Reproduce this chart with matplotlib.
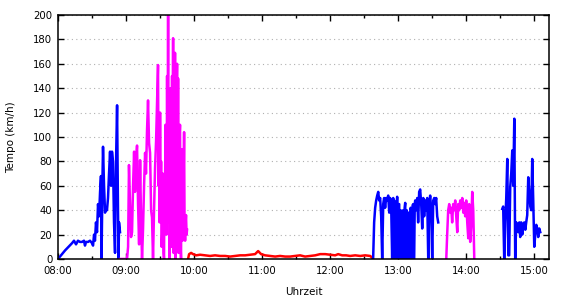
import matplotlib
matplotlib.use("Agg")
import matplotlib.pyplot as plt
from matplotlib.ticker import MultipleLocator, FuncFormatter

# time in minutes after 08:00, speed in km/h
blue1_t = [0, 6.2, 12.4, 14.1, 15.9, 17.6, 19.4, 21.2, 22.9, 23.8, 24.7, 26.5, 28.2, 30.0, 30.9,
           31.8, 32.6, 33.5, 34.4, 35.3, 36.2, 37.1, 37.9, 38.4, 39.3, 39.7, 40.6, 41.5, 42.4, 43.2,
           44.1, 45.0, 45.9, 46.8, 47.6, 48.5, 49.4, 50.3, 50.7, 51.2, 52.1, 52.9, 53.4, 53.8, 54.7]
blue1_v = [0, 7, 13, 15, 12, 15, 14, 14, 15, 11, 14, 14, 15, 13, 11,
           20, 15, 30, 22, 45, 35, 55, 68, 0, 70, 92, 60, 38, 42, 40,
           50, 70, 88, 60, 88, 80, 30, 5, 50, 80, 126, 40, 0, 30, 22]

mag1_t = [54.7, 60.9, 61.8, 62.6, 63.5, 64.4, 65.3, 66.2, 67.1, 67.9, 68.8, 69.7, 70.6, 71.5,
          72.4, 73.2, 74.1, 75.0, 75.9, 76.8, 77.6, 78.5, 79.4, 80.3, 81.2, 82.1, 82.9, 83.8,
          84.7, 85.6, 86.5, 87.4,
          88.2, 88.7, 89.1, 89.6, 90.0, 90.5, 90.9, 91.4, 91.8, 92.2, 92.6, 93.1, 93.5, 93.9,
          94.4, 94.8, 95.3, 95.7, 96.2, 96.6, 97.1, 97.5, 97.9, 98.4, 98.8, 99.3, 99.7, 100.1,
          100.6, 101.0, 101.5, 101.9, 102.4, 102.8, 103.2, 103.7, 104.1, 104.6, 105.0, 105.4,
          105.9, 106.3, 106.8, 107.2, 107.6, 108.1, 108.5, 108.9, 109.4, 109.8, 110.3, 110.7,
          111.2, 111.6, 112.1, 112.5, 112.9, 113.4, 113.8]
mag1_v = [0, 0, 10, 77, 45, 18, 22, 60, 88, 55, 80, 93, 45, 12,
          81, 35, 0, 25, 60, 87, 70, 105, 130, 95, 87, 40, 34, 0,
          40, 75, 97, 130,
          159, 60, 105, 30, 120, 40, 80, 10, 20, 70, 50, 5, 0, 70,
          60, 110, 95, 20, 150, 60, 200, 30, 120, 0, 20, 140, 90, 10,
          150, 40, 181, 5, 60, 120, 169, 0, 10, 130, 160, 20,
          148, 5, 40, 100, 110, 10, 0, 85, 90, 15, 40, 60,
          104, 30, 15, 30, 36, 20, 24]

red_t = [114.7, 115.6, 117.4, 119.1, 121.8, 125.3, 129.7, 134.1, 138.5, 142.9, 147.4, 151.8,
         156.2, 160.6, 165.0, 169.4, 173.8, 176.5, 179.1, 182.6, 187.1, 191.5, 195.9, 200.3,
         204.7, 209.1, 213.5, 217.9, 222.4, 226.8, 231.2, 235.6, 240.0, 244.4, 247.1, 250.6,
         254.1, 257.6, 262.1, 266.5, 270.9, 275.3, 277.1]
red_v = [0, 4, 5, 4, 3, 3.5, 3, 2.5, 3, 2.5, 2.5, 2,
         2.5, 3, 3, 3.5, 4, 6.5, 4, 3, 2.5, 2, 2.5, 2,
         2, 2.5, 3, 2, 2.5, 3, 4, 4, 3.5, 3, 4, 3,
         3, 2.5, 3, 2.5, 3, 2.5, 1]

blue2_t = [277.9, 278.8, 279.7, 280.6, 281.5, 282.4, 283.2, 284.1, 285.0, 285.9, 286.8, 287.6,
           288.5, 289.4, 290.3, 291.2, 292.1, 292.9, 293.8,
           294.7, 295.2, 295.6, 296.1, 296.5, 297.0, 297.4, 297.8, 298.2, 298.7, 299.1, 299.6,
           300.0, 300.4, 300.9, 301.3, 301.8, 302.2, 302.6, 303.1, 303.5, 304.0, 304.4, 304.8,
           305.3, 305.7, 306.2, 306.6, 307.1, 307.5, 307.9, 308.4, 308.8, 309.3, 309.7, 310.1,
           310.6, 311.0, 311.5, 311.9, 312.4, 312.8, 313.2, 313.7, 314.1, 314.6, 315.0,
           315.9, 316.8, 317.6, 318.5, 319.4,
           320.3, 321.2, 322.1, 322.9, 323.8, 324.7, 325.6, 326.5, 327.4, 328.2, 329.1, 330.0,
           330.9, 331.8, 332.6, 333.5, 334.4, 335.3]
blue2_v = [0, 30, 42, 48, 52, 55, 48, 50, 35, 0, 45, 50,
           42, 50, 48, 52, 38, 50, 45,
           0, 45, 50, 10, 48, 0, 20, 45, 0, 40, 51, 0,
           5, 45, 45, 0, 30, 40, 10, 38, 0, 35, 40, 0,
           25, 42, 46, 0, 0, 40, 35, 0, 5, 38, 30, 0,
           0, 42, 38, 0, 15, 44, 45, 0, 0, 45, 48,
           40, 50, 30, 55, 57,
           45, 25, 50, 35, 48, 40, 50, 0, 45, 52, 40, 0,
           48, 50, 45, 50, 35, 30]

mag2_t = [342.4, 343.2, 344.1, 345.0, 345.9, 346.8, 347.6, 348.5, 349.4, 350.3, 351.2, 352.1,
          352.9, 353.8, 354.7, 355.6, 356.5, 357.4, 358.2, 359.1, 360.0, 360.9, 361.8, 362.6,
          363.5, 364.4, 365.3, 366.2, 367.1]
mag2_v = [0, 20, 40, 45, 38, 42, 30, 45, 40, 48, 35, 22,
          45, 40, 48, 42, 50, 38, 46, 35, 48, 30, 17, 45,
          14, 28, 55, 40, 0]

blue3_t = [391.8, 392.6, 393.5, 394.4, 395.3, 396.2, 397.1, 397.9, 398.8, 399.7, 400.6, 401.5,
           402.4, 403.2, 404.1, 405.0, 405.9, 406.8, 407.6, 408.5, 409.4, 410.3, 411.2, 412.1,
           412.9, 413.8, 414.7, 415.6, 416.5, 417.4, 418.2, 419.1, 420.0, 420.9, 421.8, 422.6,
           423.5, 424.4, 425.3]
blue3_v = [41, 43, 0, 30, 50, 82, 3, 3, 59, 70, 89, 60,
           115, 0, 30, 28, 22, 30, 18, 30, 20, 28, 30, 24,
           30, 36, 67, 55, 43, 40, 82, 48, 10, 20, 28, 25,
           18, 25, 22]

hour_labels = ["08:00", "09:00", "10:00", "11:00", "12:00", "13:00", "14:00", "15:00"]

fig = plt.figure(figsize=(5.7, 3.0), dpi=100)
ax = fig.add_axes([58/570, 1-259/300, (549-58)/570, (259-15)/300])

lw = 1.8
for t, v, c in [(blue1_t, blue1_v, "#0000ff"), (mag1_t, mag1_v, "#ff00ff"),
                (red_t, red_v, "#ff0000"), (blue2_t, blue2_v, "#0000ff"),
                (mag2_t, mag2_v, "#ff00ff"), (blue3_t, blue3_v, "#0000ff")]:
    ax.plot(t, v, color=c, lw=lw, zorder=3, solid_joinstyle="round")

ax.set_xlim(0, 433)
ax.set_ylim(0, 200)
ax.xaxis.set_major_locator(MultipleLocator(60))
ax.xaxis.set_minor_locator(MultipleLocator(30))
ax.xaxis.set_major_formatter(FuncFormatter(
    lambda v, p: hour_labels[int(round(v / 60))] if 0 <= int(round(v / 60)) < len(hour_labels) else ""))
ax.yaxis.set_major_locator(MultipleLocator(20))

ax.tick_params(axis="both", which="both", direction="in", top=True, right=True,
               labelsize=7.3, colors="black")
ax.tick_params(axis="x", which="both", pad=5)
ax.tick_params(axis="y", which="both", pad=4)
ax.tick_params(axis="both", which="major", length=4, width=1)
ax.tick_params(axis="x", which="minor", length=2, width=1)

ax.yaxis.grid(True, linestyle=(0, (1, 3)), color="#b0b0b0", linewidth=0.8)
ax.set_axisbelow(True)
for s in ax.spines.values():
    s.set_linewidth(1.1)
    s.set_zorder(4)

ax.set_xlabel("Uhrzeit", fontsize=7.5, labelpad=8)
ax.set_ylabel("Tempo (km/h)", fontsize=7.5, labelpad=12)

fig.savefig("out.png", dpi=100)
